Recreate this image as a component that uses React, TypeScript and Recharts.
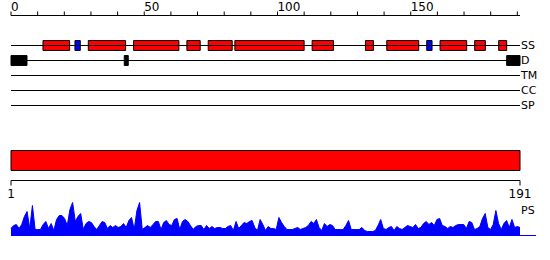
import React from "react";
import { ComposedChart, AreaChart, Area, XAxis, YAxis, ReferenceLine, ReferenceArea } from "recharts";

const SEQ_LENGTH = 191;
const TOP_TICKS = [0, 10, 20, 30, 40, 50, 60, 70, 80, 90, 100, 110, 120, 130, 140, 150, 160, 170, 180, 190];
const TOP_TICK_LABELS = [0, 50, 100, 150];
const BOTTOM_TICKS = [1, 191];
const TRACKS = ["SS", "D", "TM", "CC", "SP"];

// secondary structure: helices (red) and strands (blue)
const HELICES = [
  [12, 22], [29, 43], [46, 63], [66, 71], [74, 83], [84, 110],
  [113, 121], [133, 136], [141, 153], [161, 171], [174, 178], [183, 186],
];
const STRANDS = [[24, 26], [156, 158]];
// disordered regions
const DISORDER = [[0, 6], [42.5, 44], [186, 191]];
// domain bar
const DOMAINS = [[1, 191]];

// PS profile, residues 1..191
const PS_VALUES = [
  7, 10, 11, 7, 11, 19, 24, 7, 30, 6,
  6, 6, 11, 14, 7, 12, 5, 16, 20, 20,
  17, 10, 26, 33, 14, 19, 22, 6, 12, 14,
  13, 9, 6, 10, 14, 13, 7, 10, 8, 10,
  8, 9, 12, 8, 15, 18, 6, 25, 33, 6,
  8, 10, 8, 11, 14, 14, 6, 13, 15, 11,
  10, 16, 17, 6, 14, 16, 14, 10, 6, 9,
  10, 10, 6, 10, 7, 9, 7, 8, 8, 7,
  7, 9, 10, 5, 14, 7, 10, 13, 12, 14,
  15, 8, 5, 16, 11, 5, 9, 7, 7, 6,
  18, 13, 9, 6, 6, 6, 7, 8, 6, 7,
  8, 10, 14, 12, 16, 8, 5, 12, 9, 11,
  10, 6, 6, 6, 6, 10, 15, 6, 6, 6,
  6, 8, 5, 4, 4, 4, 5, 10, 16, 7,
  6, 8, 9, 5, 9, 7, 6, 8, 10, 9,
  8, 11, 7, 8, 12, 14, 11, 13, 10, 16,
  17, 10, 9, 7, 9, 8, 10, 11, 11, 11,
  7, 14, 13, 6, 7, 9, 17, 22, 8, 6,
  11, 25, 12, 6, 12, 15, 8, 16, 8, 9,
  8,
];

const RED = "#ff0000";
const BLUE = "#0000ff";
const BLACK = "#000000";

const psData = PS_VALUES.map((v, i) => ({ pos: i + 1, ps: v }));
const trackData = TRACKS.map((t, i) => ({ x: 0, y: i }));

function TopTick({ x, y, payload }: any) {
  if (!TOP_TICK_LABELS.includes(payload.value)) return <g />;
  return (
    <text x={x} y={y} textAnchor="start" fontSize={12} fill={BLACK}>
      {payload.value}
    </text>
  );
}

export default function App() {
  const margin = { left: 11, right: 30 };
  return (
    <div style={{ position: "absolute", left: 0, top: 0, width: 550, height: 260, fontFamily: "DejaVu Sans", background: "#fff" }}>
      <div style={{ position: "absolute", left: 0, top: 0 }}>
        <ComposedChart width={550} height={121} data={trackData} margin={{ top: 0.5, bottom: 0.5, ...margin }}>
          <XAxis
            type="number"
            dataKey="x"
            orientation="top"
            domain={[0, SEQ_LENGTH]}
            ticks={TOP_TICKS}
            interval={0}
            height={15}
            tickSize={4}
            tickMargin={1}
            tick={<TopTick />}
            stroke={BLACK}
            allowDataOverflow
          />
          <YAxis hide type="number" dataKey="y" domain={[-2, 5]} reversed allowDataOverflow />
          {TRACKS.map((t, i) => (
            <ReferenceLine
              key={t}
              y={i}
              stroke={BLACK}
              label={{ value: t, position: "right", offset: 1, fontSize: 11, fill: BLACK }}
            />
          ))}
          {HELICES.map(([a, b], i) => (
            <ReferenceArea key={"h" + i} x1={a} x2={b} y1={-0.33} y2={0.33} fill={RED} fillOpacity={1} stroke={BLACK} strokeWidth={1} />
          ))}
          {STRANDS.map(([a, b], i) => (
            <ReferenceArea key={"s" + i} x1={a} x2={b} y1={-0.33} y2={0.33} fill={BLUE} fillOpacity={1} stroke={BLACK} strokeWidth={1} />
          ))}
          {DISORDER.map(([a, b], i) => (
            <ReferenceArea key={"d" + i} x1={a} x2={b} y1={0.67} y2={1.33} fill={BLACK} fillOpacity={1} stroke={BLACK} strokeWidth={1} />
          ))}
        </ComposedChart>
      </div>

      <div style={{ position: "absolute", left: 0, top: 140 }}>
        <ComposedChart width={550} height={66} data={trackData} margin={{ top: 0.5, bottom: 0.5, ...margin }}>
          <XAxis
            type="number"
            dataKey="x"
            domain={[1, SEQ_LENGTH]}
            ticks={BOTTOM_TICKS}
            interval={0}
            height={25}
            tickSize={5}
            tickMargin={4}
            tick={{ fontSize: 12, fill: BLACK }}
            stroke={BLACK}
            allowDataOverflow
          />
          <YAxis hide type="number" dataKey="y" domain={[0, 4]} allowDataOverflow />
          {DOMAINS.map(([a, b], i) => (
            <ReferenceArea key={"dom" + i} x1={a} x2={b} y1={1} y2={3} fill={RED} fillOpacity={1} stroke={BLACK} strokeWidth={1} />
          ))}
        </ComposedChart>
      </div>

      <div style={{ position: "absolute", left: 0, top: 196 }}>
        <AreaChart width={550} height={40} data={psData} margin={{ top: 3.5, bottom: 0.5, ...margin }}>
          <XAxis hide type="number" dataKey="pos" domain={[1, SEQ_LENGTH]} />
          <YAxis hide type="number" domain={[0, 36]} />
          <ReferenceLine
            segment={[{ x: 1, y: 0 }, { x: 197, y: 0 }]}
            ifOverflow="visible"
            stroke={BLUE}
          />
          <ReferenceLine
            y={25}
            stroke="none"
            label={{ value: "PS", position: "right", offset: 1, fontSize: 11, fill: BLACK }}
          />
          <Area
            type="linear"
            dataKey="ps"
            stroke={BLUE}
            strokeWidth={1}
            fill={BLUE}
            fillOpacity={1}
            isAnimationActive={false}
          />
        </AreaChart>
      </div>
    </div>
  );
}
